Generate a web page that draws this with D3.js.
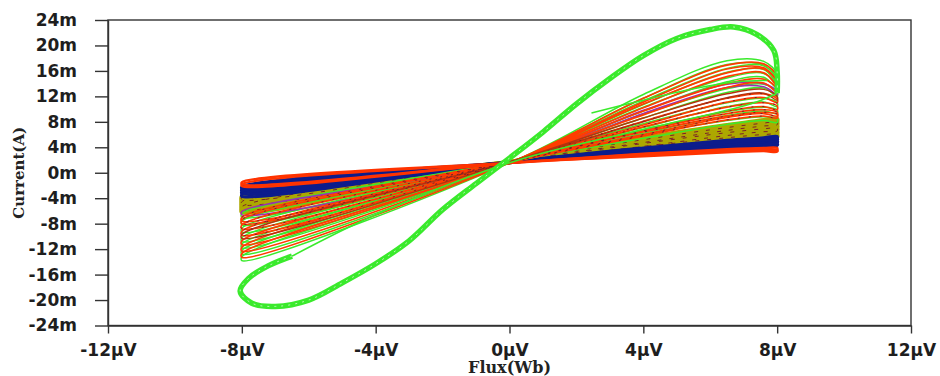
<!DOCTYPE html>
<html>
<head>
<meta charset="utf-8">
<script src="https://cdn.jsdelivr.net/npm/d3@7"></script>
<style>
body{margin:0;background:#fff;}
svg{display:block;}
.tick text{font-family:"DejaVu Sans",Verdana,sans-serif;font-weight:bold;font-size:17px;fill:#1e1e1e;}
.ttl{font-family:"DejaVu Serif","Liberation Serif",serif;font-weight:bold;font-size:16px;fill:#222;}
</style>
</head>
<body>
<div id="chart"></div>
<script>
// Axis ticks
var xTicks = [-12, -8, -4, 0, 4, 8, 12];          // µV
var yTicks = [-24, -20, -16, -12, -8, -4, 0, 4, 8, 12, 16, 20, 24]; // mA

// Flux points (µV) shared by every thin loop of the fan; index 1 is the pinch.
var fanFlux = [-8, 0.2, 4, 6.5, 7.6, 8];

// Thin loops: current (mA) at each fanFlux point.
var redTop = [
	[-1.8, 1.6, 2.9, 3.5, 3.7, 3.6],
	[-2.1, 1.6, 3.0, 3.7, 3.9, 3.9]
];
var blueBand = [
	[-2.5, 1.7, 3.3, 4.2, 4.5, 4.6],
	[-2.9, 1.7, 3.5, 4.5, 4.9, 5.0],
	[-3.3, 1.7, 3.7, 4.8, 5.2, 5.4],
	[-3.7, 1.8, 3.9, 5.1, 5.5, 5.7]
];
var oliveBand = [
	[-4.2, 1.8, 4.1, 5.5, 6.0, 6.0],
	[-4.6, 1.8, 4.4, 5.9, 6.4, 6.5],
	[-5.0, 1.8, 4.6, 6.3, 6.9, 7.0],
	[-5.4, 1.8, 4.9, 6.7, 7.3, 7.5],
	[-5.8, 1.9, 5.2, 7.1, 7.8, 8.0],
	[-6.2, 1.9, 5.5, 7.5, 8.3, 8.5]
];
var greenFan = [
	[-7.0, 1.9, 6.0, 8.2, 8.8, 8.5],
	[-8.2, 1.9, 6.8, 9.6, 10.3, 9.9],
	[-9.3, 2.0, 7.7, 11.0, 11.7, 11.0],
	[-10.8, 2.0, 9.2, 13.2, 13.9, 12.6],
	[-11.8, 2.0, 10.3, 14.9, 15.6, 13.8],
	[-12.8, 2.0, 11.3, 16.4, 16.8, 14.8],
	[-13.8, 2.0, 12.3, 17.6, 17.5, 15.6]
];
var redFan = [
	[-7.6, 1.9, 6.4, 8.9, 9.5, 9.2],
	[-8.0, 1.9, 6.6, 9.3, 9.9, 9.5],
	[-8.8, 1.9, 7.2, 10.3, 11.0, 10.5],
	[-9.8, 2.0, 8.1, 11.7, 12.4, 11.6],
	[-11.3, 2.0, 9.7, 14.0, 14.7, 13.2],
	[-12.3, 2.0, 10.8, 15.7, 16.3, 14.3],
	[-13.3, 2.0, 11.7, 16.9, 17.1, 15.2]
];
var darkRedFan = [
	[-10.3, 2.0, 8.6, 12.4, 13.1, 12.0]
];
var purpleFan = [
	[-6.6, 1.9, 9.8, 13.9, 14.0, 12.8]
];

// Short green start-up segment (flux µV, current mA).
var startFlux = [2.45, 4.0, 5.5, 6.8, 7.7];
var startCurrent = [9.4, 11.4, 13.2, 14.3, 14.5];

// Large green loop: thick outer part, then its thin return path.
var bigLoopFlux = [-6.5, -7.2, -7.8, -8.05, -7.7, -7.0, -6.0, -5.0, -4.0, -3.0, -2.0, -1.0, 0.0, 1.0, 2.0, 3.0, 4.0, 5.0, 6.0, 6.7, 7.4, 7.9, 8.0, 8.0];
var bigLoopCurrent = [-13.1, -14.6, -16.6, -18.6, -20.5, -21.0, -20.0, -17.3, -14.3, -10.7, -5.8, -1.7, 2.3, 6.4, 10.8, 14.8, 18.4, 21.1, 22.5, 22.9, 21.7, 19.2, 15.8, 12.5];
var returnFlux = [8.0, 7.2, 4.0, 0.2, -4.0, -6.5];
var returnCurrent = [12.5, 10.8, 6.8, 1.9, -6.6, -13.1];

var W = 940, H = 376;
var margin = {top: 20, right: 29, bottom: 50.5, left: 108};

var svg = d3.select("#chart").append("svg").attr("width", W).attr("height", H);

var x = d3.scaleLinear().domain([-12, 12]).range([margin.left, W - margin.right]);
var y = d3.scaleLinear().domain([-24, 24]).range([H - margin.bottom, margin.top]);

var line = d3.line()
	.x(function(d){ return x(d[0]); })
	.y(function(d){ return y(d[1]); })
	.curve(d3.curveCatmullRomClosed.alpha(0.5));
var openLine = d3.line()
	.x(function(d){ return x(d[0]); })
	.y(function(d){ return y(d[1]); })
	.curve(d3.curveCatmullRom.alpha(0.5));

// A thin pinched loop: out along the row, back with a small opening.
function loopPath(row, gap){
	var out = fanFlux.map(function(f, i){ return [f, row[i]]; });
	var back = fanFlux.map(function(f, i){
		var c = row[i];
		if (i === 0) c += gap;
		else if (i > 1) c -= gap;
		return [f, c];
	}).reverse();
	return line(out.concat(back));
}

var plot = svg.append("g");

function drawGroup(rows, color, width, gap, dash){
	plot.selectAll(null).data(rows).enter().append("path")
		.attr("d", function(r){ return loopPath(r, gap); })
		.attr("fill", "none")
		.attr("stroke", color)
		.attr("stroke-width", width)
		.attr("stroke-dasharray", dash || null);
}

drawGroup(oliveBand, "#ada800", 4, 0.45);
drawGroup(oliveBand.filter(function(d, i){ return i % 2 === 0; }), "#7a1f2a", 1, 0.45, "4,8");
drawGroup(blueBand, "#0c1c8c", 3, 0.3);
drawGroup(greenFan, "#3aea2c", 1.5, 0.6);
drawGroup(purpleFan, "#9b30b0", 1.6, 0.5);
drawGroup(redFan, "#ff3c00", 1.7, 0.6);
drawGroup(darkRedFan, "#b3340e", 1.5, 0.6);
drawGroup(redFan.slice(0, 4), "#7a1f2a", 1, 0.6, "2,9");
drawGroup(redTop, "#ff3300", 2.4, 0.3);

// Start-up segment
plot.append("path")
	.attr("d", openLine(startFlux.map(function(f, i){ return [f, startCurrent[i]]; })))
	.attr("fill", "none").attr("stroke", "#3aea2c").attr("stroke-width", 1.5);

// Big green loop: thin return then thick outer part
plot.append("path")
	.attr("d", openLine(returnFlux.map(function(f, i){ return [f, returnCurrent[i]]; })))
	.attr("fill", "none").attr("stroke", "#3aea2c").attr("stroke-width", 1.6);
var bigPts = bigLoopFlux.map(function(f, i){ return [f, bigLoopCurrent[i]]; });
plot.append("path")
	.attr("d", openLine(bigPts))
	.attr("fill", "none")
	.attr("stroke", "#3aea2c")
	.attr("stroke-width", 5.5);
plot.append("path")
	.attr("d", openLine(bigPts))
	.attr("fill", "none")
	.attr("stroke", "#b8f7b0")
	.attr("stroke-width", 1)
	.attr("stroke-dasharray", "2,5");

// Frame
svg.append("rect")
	.attr("x", x(-12)).attr("y", y(24))
	.attr("width", x(12) - x(-12)).attr("height", y(-24) - y(24))
	.attr("fill", "none").attr("stroke", "#333").attr("stroke-width", 1.4);

// Axes
var xAxis = svg.append("g")
	.attr("transform", "translate(0," + y(-24) + ")")
	.call(d3.axisBottom(x).tickValues(xTicks).tickSize(8).tickSizeOuter(0).tickPadding(10)
		.tickFormat(function(d){ return d + "\u00b5V"; }));
var yAxis = svg.append("g")
	.attr("transform", "translate(" + x(-12) + ",0)")
	.call(d3.axisLeft(y).tickValues(yTicks).tickSize(13).tickSizeOuter(0).tickPadding(18)
		.tickFormat(function(d){ return d + "m"; }));
[xAxis, yAxis].forEach(function(a){
	a.select(".domain").attr("stroke", "#333").attr("stroke-width", 1.4);
	a.selectAll(".tick line").attr("stroke", "#333").attr("stroke-width", 1.4);
});

// Titles
svg.append("text").attr("class", "ttl")
	.attr("x", x(0)).attr("y", 373)
	.attr("text-anchor", "middle")
	.text("Flux(Wb)");
svg.append("text").attr("class", "ttl")
	.attr("transform", "translate(24," + y(0) + ") rotate(-90)")
	.attr("text-anchor", "middle")
	.style("font-size", "15px")
	.text("Current(A)");
</script>
</body>
</html>
